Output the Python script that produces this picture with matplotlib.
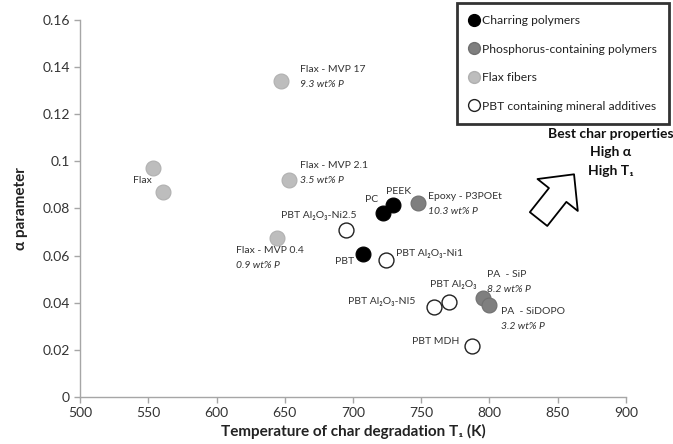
import matplotlib
matplotlib.use("Agg")
import matplotlib.pyplot as plt
from matplotlib.lines import Line2D

plt.rcParams["font.family"] = ["Lato", "DejaVu Sans"]

# --- Data ---
charring_names = ["PC", "PEEK", "PBT"]
charring_T1 = [722, 729, 707]
charring_alpha = [0.078, 0.0815, 0.0605]

phos_names = ["Epoxy - P3POEt", "PA  - SiP", "PA  - SiDOPO"]
phos_sub = ["10.3 wt% P", "8.2 wt% P", "3.2 wt% P"]
phos_T1 = [748, 795, 800]
phos_alpha = [0.0825, 0.042, 0.039]

flax_names = ["Flax", "", "Flax - MVP 17", "Flax - MVP 2.1", "Flax - MVP 0.4"]
flax_sub = ["", "", "9.3 wt% P", "3.5 wt% P", "0.9 wt% P"]
flax_T1 = [553.5, 561, 647, 653, 644]
flax_alpha = [0.097, 0.087, 0.134, 0.092, 0.0675]

mineral_names = ["PBT Al₂O₃-Ni2.5", "PBT Al₂O₃-Ni1", "PBT Al₂O₃",
                 "PBT Al₂O₃-NI5", "PBT MDH"]
mineral_T1 = [695, 724, 770, 759.5, 787]
mineral_alpha = [0.071, 0.058, 0.0405, 0.038, 0.0215]

legend_labels = ["Charring polymers", "Phosphorus-containing polymers",
                 "Flax fibers", "PBT containing mineral additives"]

# label offsets in pixels: (dx, dy, ha) for main line
offsets = {
    "PC": (-11, 14, "center"),
    "PEEK": (6, 13, "center"),
    "PBT": (-8, -7, "right"),
    "Epoxy - P3POEt": (10, 6, "left"),
    "PA  - SiP": (4, 23, "left"),
    "PA  - SiDOPO": (12, -6, "left"),
    "Flax": (-1, -12, "right"),
    "Flax - MVP 17": (19, 12, "left"),
    "Flax - MVP 2.1": (11, 15, "left"),
    "Flax - MVP 0.4": (-41, -13, "left"),
    "PBT Al₂O₃-Ni2.5": (-27, 14, "center"),
    "PBT Al₂O₃-Ni1": (10, 7, "left"),
    "PBT Al₂O₃": (5, 17, "center"),
    "PBT Al₂O₃-NI5": (-19, 6, "right"),
    "PBT MDH": (-12, 5, "right"),
}
sub_gap = 15

fig = plt.figure(figsize=(6.73, 4.44), dpi=100)
ax = fig.add_axes([0.119, 0.106, 0.811, 0.849])

ms = 115
ax.scatter(flax_T1, flax_alpha, s=ms, c="#bdbdbd", edgecolors="#b0b0b0",
           linewidths=0.8, zorder=3)
ax.scatter(mineral_T1, mineral_alpha, s=ms, c="white", edgecolors="#222222",
           linewidths=1.0, zorder=3)
ax.scatter(phos_T1, phos_alpha, s=ms, c="#7f7f7f", edgecolors="#707070",
           linewidths=0.8, zorder=3)
ax.scatter(charring_T1, charring_alpha, s=ms, c="black", edgecolors="black",
           linewidths=0.8, zorder=4)


def put_labels(names, subs, xs, ys):
    for i, name in enumerate(names):
        if not name:
            continue
        dx, dy, ha = offsets[name]
        ax.annotate(name, (xs[i], ys[i]), xytext=(dx, dy),
                    textcoords="offset pixels", ha=ha, va="center",
                    fontsize=7.5, color="#333333")
        if subs and subs[i]:
            ax.annotate(subs[i], (xs[i], ys[i]), xytext=(dx, dy - sub_gap),
                        textcoords="offset pixels", ha=ha, va="center",
                        fontsize=7.5, style="italic", color="#333333")


put_labels(charring_names, None, charring_T1, charring_alpha)
put_labels(phos_names, phos_sub, phos_T1, phos_alpha)
put_labels(flax_names, flax_sub, flax_T1, flax_alpha)
put_labels(mineral_names, None, mineral_T1, mineral_alpha)

# axes styling
ax.set_xlim(500, 900)
ax.set_ylim(0, 0.16)
ax.set_xticks(range(500, 901, 50))
ax.set_yticks([0, 0.02, 0.04, 0.06, 0.08, 0.1, 0.12, 0.14, 0.16])
ax.set_yticklabels(["0", "0.02", "0.04", "0.06", "0.08", "0.1", "0.12",
                    "0.14", "0.16"])
for side in ["top", "right"]:
    ax.spines[side].set_visible(False)
for side in ["left", "bottom"]:
    ax.spines[side].set_color("#a6a6a6")
    ax.spines[side].set_linewidth(1.0)
ax.tick_params(colors="#a6a6a6", labelcolor="#333333", labelsize=10,
               length=4, width=1.0)
ax.set_xlabel("Temperature of char degradation T₁ (K)", fontsize=11,
              fontweight="bold", color="#222222", labelpad=3)
ax.set_ylabel("α parameter", fontsize=11, fontweight="bold",
              color="#222222", labelpad=10)

# big hollow arrow + note
ax.annotate("", xy=(862, 0.0945), xytext=(836, 0.0755),
            arrowprops=dict(arrowstyle="simple,head_length=19,head_width=37,tail_width=16",
                            mutation_scale=1, fc="white", ec="black", lw=1.3,
                            shrinkA=0, shrinkB=0))
fig.text(611 / 673, 1 - 152 / 444, "Best char properties\nHigh α\nHigh T₁",
         ha="center", va="center", fontsize=10, fontweight="bold",
         color="#111111", linespacing=1.65)

# legend
handles = [
    Line2D([], [], ls="", marker="o", ms=8.5, mfc="black", mec="black"),
    Line2D([], [], ls="", marker="o", ms=8.5, mfc="#7f7f7f", mec="#707070"),
    Line2D([], [], ls="", marker="o", ms=8.5, mfc="#bdbdbd", mec="#b0b0b0"),
    Line2D([], [], ls="", marker="o", ms=8.5, mfc="white", mec="#222222"),
]
leg = fig.legend(handles, legend_labels, loc="upper right",
                 bbox_to_anchor=(669 / 673, 1 - 3 / 444), fontsize=8.7,
                 frameon=True, fancybox=False, edgecolor="black",
                 handletextpad=0.2, handlelength=0.9, labelspacing=1.45,
                 borderpad=1.0, borderaxespad=0)
leg.get_frame().set_linewidth(2)
for t in leg.get_texts():
    t.set_color("#222222")

fig.savefig("out.png", dpi=100)
